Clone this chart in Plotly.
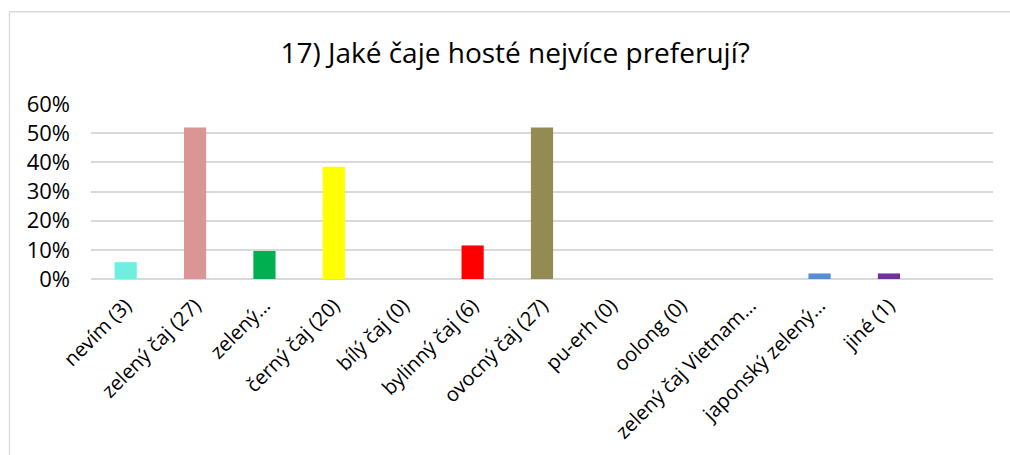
import plotly.graph_objects as go

categories = ["nevím (3)", "zelený čaj (27)", "zelený…", "černý čaj (20)", "bílý čaj (0)",
              "bylinný čaj (6)", "ovocný čaj (27)", "pu-erh (0)", "oolong (0)",
              "zelený čaj Vietnam…", "japonský zelený…", "jiné (1)", " "]
values = [0.0577, 0.519, 0.096, 0.385, 0.0, 0.115, 0.519, 0.0, 0.0, 0.0, 0.019, 0.019, None]
colors = ["#6DF0E2", "#D99694", "#00B050", "#FFFF00", "#FFFFFF", "#FF0000", "#948A54",
          "#FFFFFF", "#FFFFFF", "#FFFFFF", "#558ED5", "#7030A0", "#FFFFFF"]
y_ticks = [0, 0.1, 0.2, 0.3, 0.4, 0.5, 0.6]
y_labels = ["0%", "10%", "20%", "30%", "40%", "50%", "60%"]
title_text = "17) Jaké čaje hosté nejvíce preferují?"

FONT = "Open Sans"

fig = go.Figure(go.Bar(x=categories, y=values, marker=dict(color=colors, line=dict(width=0)),
                       width=0.32, hoverinfo="skip"))

fig.update_layout(
    width=1010, height=455,
    margin=dict(l=91, r=17, t=104, b=176),
    paper_bgcolor="white", plot_bgcolor="white",
    showlegend=False,
    font=dict(family=FONT, color="#000000"),
    title=dict(text=title_text, x=0.51, xref="container", xanchor="center",
               y=1 - 53 / 455, yref="container", yanchor="middle",
               font=dict(family=FONT, size=28, color="#000000")),
    xaxis=dict(type="category", categoryorder="array", categoryarray=categories,
               range=[-0.5, len(categories) - 0.5], tickangle=-45,
               tickfont=dict(family=FONT, size=20, color="#000000"),
               showgrid=False, showline=False, ticks="", zeroline=False,
               ticklabelstandoff=10),
    yaxis=dict(range=[0, 0.6], tickvals=y_ticks, ticktext=y_labels,
               tickfont=dict(family=FONT, size=22, color="#000000"),
               showgrid=True, gridcolor="#D9D9D9", gridwidth=1.5,
               zeroline=True, zerolinecolor="#D9D9D9", zerolinewidth=1.5,
               showline=False, ticks="", ticklabelstandoff=20),
    shapes=[dict(type="rect", xref="paper", yref="paper",
                 x0=(9.5 - 91) / 902, x1=1.2, y0=-2, y1=(279 - 12.5) / 174.5,
                 line=dict(color="#D9D9D9", width=1.3), fillcolor="rgba(0,0,0,0)", layer="below")],
)

fig.write_html("out.html")
